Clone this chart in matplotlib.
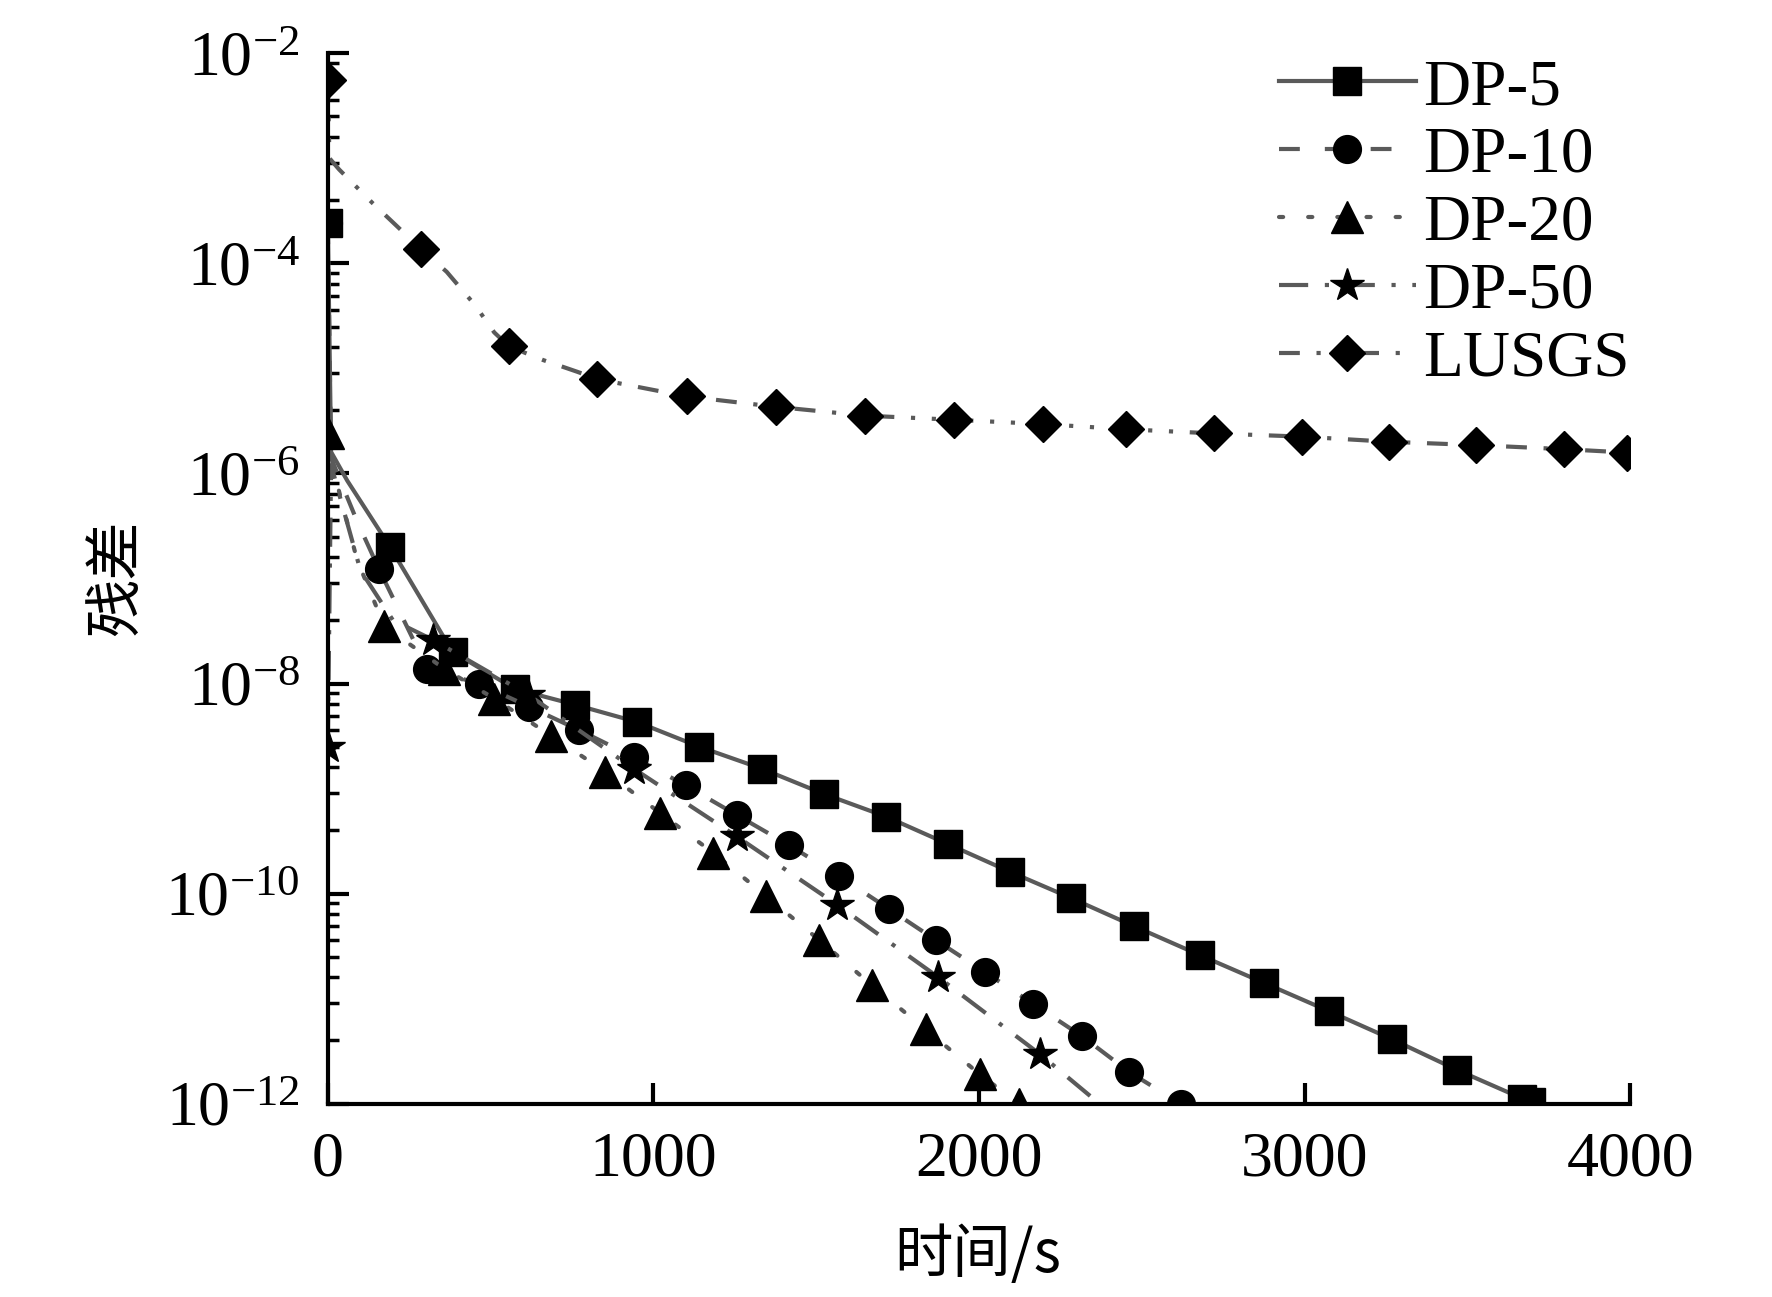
import numpy as np
import matplotlib
matplotlib.use("Agg")
import matplotlib.pyplot as plt
from matplotlib.ticker import FixedLocator, NullLocator, NullFormatter

plt.rcParams['font.family'] = ['Liberation Serif', 'DejaVu Serif']
plt.rcParams['mathtext.fontset'] = 'custom'
plt.rcParams['mathtext.rm'] = 'Liberation Serif'
plt.rcParams['mathtext.it'] = 'Liberation Serif:italic'
plt.rcParams['mathtext.bf'] = 'Liberation Serif:bold'

# ---- data ----
# DP-5
t_dp5 = [0, 10, 60, 191, 383, 574, 758, 950, 1141, 1332, 1523, 1715, 1906,
         2094, 2282, 2476, 2678, 2876, 3075, 3269, 3468, 3669, 3694]
r_dp5 = [2.4e-4, 1.6e-6, 8.5e-7, 2.0e-7, 2.0e-8, 8.9e-9, 6.3e-9, 4.3e-9, 2.5e-9,
         1.55e-9, 8.9e-10, 5.4e-10, 2.95e-10, 1.62e-10, 9.1e-11, 4.9e-11,
         2.6e-11, 1.41e-11, 7.6e-12, 4.1e-12, 2.1e-12, 1.12e-12, 1.05e-12]
m_dp5 = [0] + list(range(3, 23))

# DP-10
t_dp10 = [0, 10, 90, 157, 306, 463, 619, 772, 939, 1099, 1256, 1416, 1569,
          1722, 1868, 2017, 2167, 2316, 2462, 2619]
r_dp10 = [2.4e-4, 1.4e-6, 3.5e-7, 1.23e-7, 1.38e-8, 1.0e-8, 6.0e-9, 3.6e-9,
          2.0e-9, 1.07e-9, 5.6e-10, 2.9e-10, 1.48e-10, 7.2e-11, 3.6e-11,
          1.8e-11, 8.9e-12, 4.4e-12, 2.0e-12, 1.0e-12]
m_dp10 = [0] + list(range(3, 20))

# DP-20
t_dp20 = [0, 20, 90, 174, 358, 511, 685, 852, 1019, 1183, 1346, 1510, 1670,
          1836, 2003, 2122]
r_dp20 = [2.4e-6, 1.0e-6, 1.5e-7, 3.5e-8, 1.38e-8, 7.2e-9, 3.2e-9, 1.45e-9,
          5.9e-10, 2.45e-10, 9.5e-11, 3.6e-11, 1.35e-11, 5.1e-12, 1.9e-12,
          1.0e-12]
m_dp20 = [0] + list(range(3, 16))

# DP-50
t_dp50 = [0, 10, 100, 200, 323, 616, 939, 1256, 1565, 1875, 2188, 2370]
r_dp50 = [2.5e-9, 1.2e-6, 1.2e-7, 4.0e-8, 2.6e-8, 7.8e-9, 1.55e-9, 3.5e-10,
          7.8e-11, 1.6e-11, 2.95e-12, 1.0e-12]
m_dp50 = [0, 4, 5, 6, 7, 8, 9, 10]

# LUSGS
t_lu = [0, 5, 35, 139, 285, 365, 452, 511, 556, 661, 765, 828, 1103, 1377,
        1649, 1923, 2195, 2452, 2723, 2991, 3259, 3527, 3798, 3989]
r_lu = [5.6e-3, 1.0e-3, 7.8e-4, 3.7e-4, 1.38e-4, 8.3e-5, 4.0e-5, 2.2e-5,
        1.62e-5, 1.2e-5, 9.3e-6, 7.9e-6, 5.4e-6, 4.3e-6, 3.55e-6, 3.24e-6,
        2.95e-6, 2.63e-6, 2.4e-6, 2.24e-6, 2.0e-6, 1.86e-6, 1.7e-6, 1.58e-6]
m_lu = [0, 4, 8] + list(range(11, 24))

line_col = '#5a5a5a'
lw = 3.0

fig = plt.figure(figsize=(17.72, 12.97), dpi=100)
ax = fig.add_axes([0.185, 0.149, 0.735, 0.810])

ax.plot(t_dp5, r_dp5, color=line_col, lw=lw, ls='-', marker='s', ms=20,
        mfc='black', mec='black', markevery=m_dp5, label='DP-5')
ax.plot(t_dp10, r_dp10, color=line_col, lw=lw, ls=(0, (5, 6)), marker='o', ms=20,
        mfc='black', mec='black', markevery=m_dp10, label='DP-10')
ax.plot(t_dp20, r_dp20, color=line_col, lw=lw, ls=(0, (1, 6)), marker='^', ms=23,
        mfc='black', mec='black', markevery=m_dp20, label='DP-20',
        dash_capstyle='round')
ax.plot(t_dp50, r_dp50, color=line_col, lw=lw, ls=(0, (7, 4, 1, 4)), marker='*', ms=25,
        mfc='black', mec='black', markevery=m_dp50, label='DP-50')
ax.plot(t_lu, r_lu, color=line_col, lw=lw, ls=(0, (5, 4, 1, 4, 1, 4)), marker='D', ms=18,
        mfc='black', mec='black', markevery=m_lu, label='LUSGS')

ax.set_yscale('log')
ax.set_xlim(0, 4000)
ax.set_ylim(1e-12, 1e-2)

for s in ['top', 'right']:
    ax.spines[s].set_visible(False)
for s in ['left', 'bottom']:
    ax.spines[s].set_linewidth(3)

ax.xaxis.set_major_locator(FixedLocator([0, 1000, 2000, 3000, 4000]))
ax.xaxis.set_minor_locator(NullLocator())
ax.set_xticklabels(['0', '1000', '2000', '3000', '4000'])

majors = [1e-12, 1e-10, 1e-8, 1e-6, 1e-4, 1e-2]
ax.yaxis.set_major_locator(FixedLocator(majors))
ax.set_yticklabels([r'$10^{-12}$', r'$10^{-10}$', r'$10^{-8}$',
                    r'$10^{-6}$', r'$10^{-4}$', r'$10^{-2}$'])
minors = []
for base in majors[:-1]:
    for k in range(2, 10):
        minors.append(base * k * k)
ax.yaxis.set_minor_locator(FixedLocator(minors))
ax.yaxis.set_minor_formatter(NullFormatter())

ax.tick_params(axis='both', which='major', direction='in', length=15, width=3,
               labelsize=46)
ax.tick_params(axis='x', which='major', pad=20)
ax.tick_params(axis='y', which='major', pad=20)
ax.tick_params(axis='y', which='minor', direction='in', length=8, width=2.5)

cjk = ['Noto Sans CJK SC', 'DejaVu Sans']
fig.text(0.552, 0.032, '时间/s', fontsize=42, family=cjk, ha='center', va='center')
fig.text(0.066, 0.555, '残差', fontsize=42, family=cjk, ha='center', va='center',
         rotation=90)

ax.legend(loc='upper left', bbox_to_anchor=(0.7216, 0.955), bbox_transform=fig.transFigure,
          frameon=False, fontsize=47, handlelength=2.1, handletextpad=0.12,
          labelspacing=0.125, borderpad=0, borderaxespad=0, numpoints=1)

fig.savefig('out.png', dpi=100)
